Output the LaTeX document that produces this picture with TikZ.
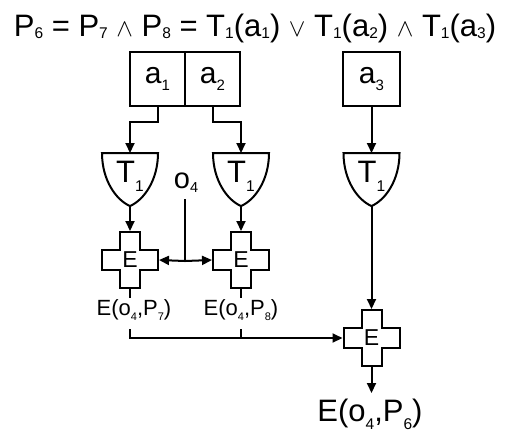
\documentclass[tikz,border=0pt]{standalone}
\usepackage{fontspec}
\usepackage{graphicx}
\setmainfont{Liberation Sans}
\usetikzlibrary{arrows.meta}
\newcommand\sbs[2][0.08em]{\raisebox{-#1}{\scalebox{0.5}{#2}}}
\newcommand\fsz[1]{\fontsize{#1}{#1}\selectfont}
\newcommand\shieldat[2]{%
  \draw (#2-28,153) -- (#2+28,153) .. controls (#2+28,180) and (#2+14,200) .. (#2,206)
        .. controls (#2-14,200) and (#2-28,180) .. cycle;
  \coordinate (#1top) at (#2,153);
  \coordinate (#1bot) at (#2,206);
  \node[tlabel] (#1) at (#2,176) {T\sbs[0.28em]{1}};}
\newcommand\crossat[3]{%
  \draw (#2-10,#3-28) -- (#2+10,#3-28) -- (#2+10,#3-10) -- (#2+28,#3-10) -- (#2+28,#3+10)
     -- (#2+10,#3+10) -- (#2+10,#3+28) -- (#2-10,#3+28) -- (#2-10,#3+10) -- (#2-28,#3+10)
     -- (#2-28,#3-10) -- (#2-10,#3-10) -- cycle;
  \node[crossn] (#1) at (#2,#3) {E};}
\begin{document}
\begin{tikzpicture}[x=1pt,y=-1pt,line width=2pt,
  conn/.style={-{Triangle[length=10pt,width=9pt]}},
  box/.style={draw,minimum width=55pt,minimum height=54pt,inner sep=0pt,font=\fsz{30}},
  tlabel/.style={inner sep=0pt,font=\fsz{31}},
  crossn/.style={minimum width=56pt,minimum height=56pt,inner sep=0pt,font=\fsz{23}},
  lbl/.style={inner sep=0pt,font=\fsz{22}}]
\useasboundingbox (0,0) rectangle (513,440);
% title
\node[font=\fsz{31},anchor=base,inner sep=0pt] (title) at (255,36)
  {P\sbs{6} = P\sbs{7} $\wedge$ P\sbs{8} = T\sbs{1}(a\sbs{1}) $\vee$ T\sbs{1}(a\sbs{2}) $\wedge$ T\sbs{1}(a\sbs{3})};
% inputs
\node[box] (a1) at (157.5,79) {a\sbs[0.25em]{1}};
\node[box] (a2) at (212.5,79) {a\sbs[0.25em]{2}};
\node[box,minimum width=57pt] (a3) at (371.5,79) {a\sbs[0.25em]{3}};
% T1 shapes
\shieldat{t1}{130}
\shieldat{t2}{241}
\shieldat{t3}{371.5}
% crosses
\crossat{e1}{130}{260}
\crossat{e2}{241}{260}
\crossat{e3}{371.5}{338}
% o4
\node[inner sep=0pt,font=\fsz{29}] (o4) at (186,183) {o\sbs[0.15em]{4}};
\coordinate (o4b) at (185,199);
\coordinate (oj) at (185,261);
% labels
\node[lbl] (l1) at (134,310) {E(o\sbs[0.25em]{4},P\sbs[0.25em]{7})};
\node[lbl] (l2) at (241,310) {E(o\sbs[0.25em]{4},P\sbs[0.25em]{8})};
\node[inner sep=0pt,font=\fsz{31}] (res) at (370,414) {E(o\sbs[0.25em]{4},P\sbs[0.25em]{6})};
\coordinate (k1) at (130,329);
\coordinate (j1) at (130,338);
\coordinate (k2) at (241,329);
\coordinate (j2) at (241,338);
\coordinate (restip) at (371.5,393);
% connectors
\draw[conn] (a1.south) -- ++(0,15) -| (t1top);
\draw[conn] (a2.south) -- ++(0,15) -| (t2top);
\draw[conn] (a3.south) -- (t3top);
\draw[conn] (t1bot) -- (e1.north);
\draw[conn] (t2bot) -- (e2.north);
\draw[conn] (t3bot) -- (e3.north);
\draw (o4b) -- (oj);
\draw[conn] (oj) -- (e1.east);
\draw[conn] (oj) -- (e2.west);
\draw (e1.south) -- (e1.south |- 0,298);
\draw (e2.south) -- (e2.south |- 0,298);
\draw[conn] (k1) -- (j1) -- (e3.west);
\draw (k2) -- (j2);
\draw[conn] (e3.south) -- (restip);
\end{tikzpicture}
\end{document}
